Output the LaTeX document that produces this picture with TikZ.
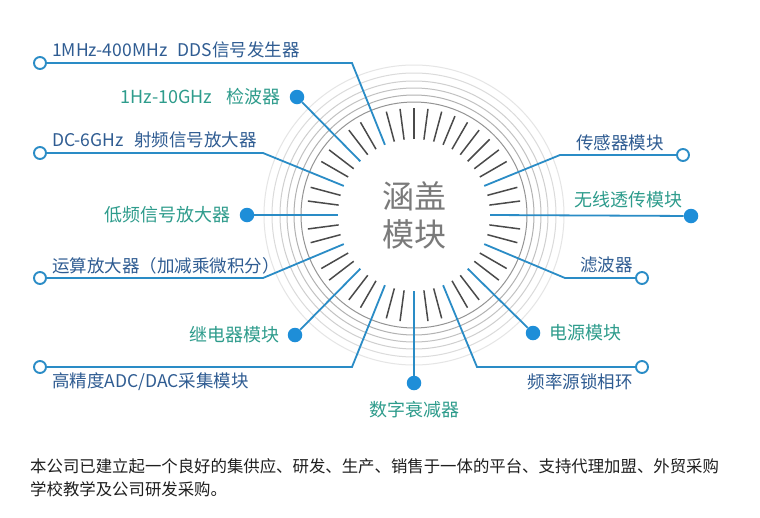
\documentclass[tikz,border=0pt]{standalone}
\usepackage{fontspec}
\setmainfont{Noto Sans CJK SC}
\usetikzlibrary{calc}
\definecolor{lineblue}{HTML}{2A8CC6}
\definecolor{dotblue}{HTML}{1E8ED8}
\definecolor{darkbluetext}{HTML}{2F5C92}
\definecolor{tealtext}{HTML}{2E9C8C}
\definecolor{tickgray}{HTML}{4A4A4A}
\definecolor{centergray}{HTML}{7A7A7A}
\tikzset{
  conn/.style={draw=lineblue, line width=1.8pt},
  opendot/.style={circle, draw=lineblue, line width=1.9pt, fill=white, minimum size=12pt, inner sep=0pt},
  filldot/.style={circle, fill=dotblue, minimum size=14.5pt, inner sep=0pt},
  bluelabel/.style={text=darkbluetext, font=\fontsize{17.5}{19}\selectfont, inner sep=0pt},
  teallabel/.style={text=tealtext, font=\fontsize{18}{19}\selectfont, inner sep=0pt},
  tickline/.style={draw=tickgray, line width=1.5pt},
  ringline/.style={line width=1pt},
}
\begin{document}
\begin{tikzpicture}[x=1pt,y=-1pt]
\useasboundingbox[fill=white] (0,0) rectangle (760,517);
\coordinate (c) at (414,215);
% rings
\draw[ringline, draw=black!42] (c) circle[radius=113pt];
\draw[ringline, draw=black!30] (c) circle[radius=120pt];
\draw[ringline, draw=black!24] (c) circle[radius=127pt];
\draw[ringline, draw=black!19] (c) circle[radius=134pt];
\draw[ringline, draw=black!14] (c) circle[radius=142pt];
\draw[ringline, draw=black!10] (c) circle[radius=150pt];
% ticks
\foreach \i in {0,...,15}{
  \foreach \o in {7.5,15}{
    \draw[tickline] ($(c)+({22.5*\i+\o}:76pt)$) -- ($(c)+({22.5*\i+\o}:107pt)$);
  }
}
\foreach \a in {45,67.5,90}{
  \draw[tickline] ($(c)+(\a:76pt)$) -- ($(c)+(\a:107pt)$);
}
% center text
\node[text=centergray, font=\fontsize{32}{34}\selectfont, inner sep=0pt] (t1) at (414,196) {涵盖};
\node[text=centergray, font=\fontsize{32}{34}\selectfont, inner sep=0pt] (t2) at (414,234) {模块};
% inner ends
\foreach \n/\a in {d1/112.5, d2/135, d3/157.5, d4/180, d5/202.5, d6/225, d7/247.5, d8/270, d9/292.5, d10/315, d11/337.5, d12/0, d13/22.5}{
  \coordinate (\n) at ($(c)+(\a:76pt)$);
}
% corners
\coordinate (k1) at (352,63);
\coordinate (k3) at (263,153);
\coordinate (k5) at (263,278);
\coordinate (k7) at (352,367);
\coordinate (k9) at (477,367);
\coordinate (k11) at (565,278);
\coordinate (k13) at (560,155);
% end markers
\node[opendot] (e1) at (40,63) {};
\node[filldot] (e2) at (297,97) {};
\node[opendot] (e3) at (40,153) {};
\node[filldot] (e4) at (247,215) {};
\node[opendot] (e5) at (40,278) {};
\node[filldot] (e6) at (295,335) {};
\node[opendot] (e7) at (40,367) {};
\node[filldot] (e8) at (414,383) {};
\node[opendot] (e9) at (642,367) {};
\node[filldot] (e10) at (533,333) {};
\node[opendot] (e11) at (642,278) {};
\node[filldot] (e12) at (691,216) {};
\node[opendot] (e13) at (683,155) {};
% connectors
\draw[conn] (d1) -- (k1) -- (e1);
\draw[conn] (d2) -- (e2);
\draw[conn] (d3) -- (k3) -- (e3);
\draw[conn] (d4) -- (e4);
\draw[conn] (d5) -- (k5) -- (e5);
\draw[conn] (d6) -- (e6);
\draw[conn] (d7) -- (k7) -- (e7);
\draw[conn] (d8) -- (e8);
\draw[conn] (d9) -- (k9) -- (e9);
\draw[conn] (d10) -- (e10);
\draw[conn] (d11) -- (k11) -- (e11);
\draw[conn] (d12) -- (e12);
\draw[conn] (d13) -- (k13) -- (e13);
% labels
\node[bluelabel, anchor=west] (l1) at (52,50) {1MHz-400MHz\hspace{0.6em}DDS信号发生器};
\node[teallabel, anchor=east] (l2) at (281,97) {1Hz-10GHz\hspace{0.8em}检波器};
\node[bluelabel, anchor=west] (l3) at (52,140) {DC-6GHz\hspace{0.6em}射频信号放大器};
\node[teallabel, anchor=east] (l4) at (231,215) {低频信号放大器};
\node[bluelabel, anchor=west] (l5) at (52,266) {运算放大器（加减乘微积分）};
\node[teallabel, anchor=east] (l6) at (280,335) {继电器模块};
\node[bluelabel, anchor=west] (l7) at (52,382) {高精度ADC/DAC采集模块};
\node[teallabel] (l8) at (414,410) {数字衰减器};
\node[bluelabel, anchor=east] (l9) at (664,143) {传感器模块};
\node[teallabel, anchor=east] (l10) at (683,200) {无线透传模块};
\node[bluelabel, anchor=east] (l11) at (633,265) {滤波器};
\node[teallabel, anchor=west] (l12) at (549,333) {电源模块};
\node[bluelabel, anchor=east] (l13) at (633,382) {频率源锁相环};
% bottom text
\node[anchor=west, inner sep=0pt, text=black!88, font=\fontsize{16.4}{18}\selectfont] (b1) at (30,466) {本公司已建立起一个良好的集供应、研发、生产、销售于一体的平台、支持代理加盟、外贸采购};
\node[anchor=west, inner sep=0pt, text=black!88, font=\fontsize{16.4}{18}\selectfont] (b2) at (30,489) {学校教学及公司研发采购。};
\end{tikzpicture}
\end{document}
